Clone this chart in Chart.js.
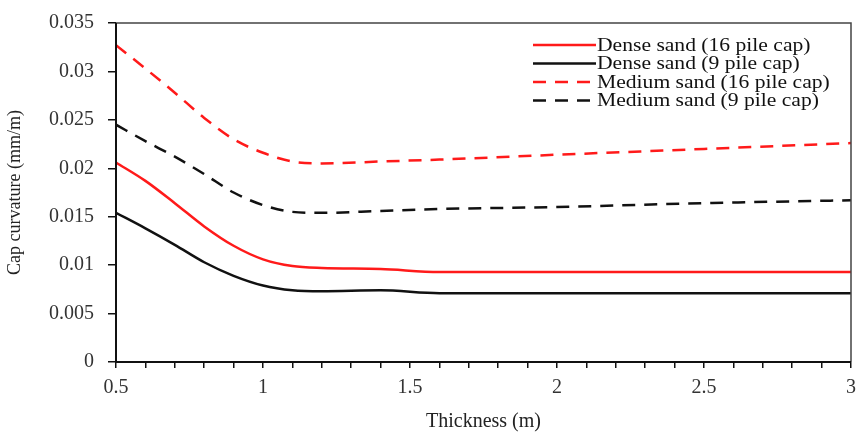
<!DOCTYPE html>
<html>
<head>
<meta charset="utf-8">
<script src="https://cdn.jsdelivr.net/npm/chart.js@4"></script>
<style>
  html, body { margin: 0; padding: 0; background: #fff; }
  #wrap { width: 857px; height: 432px; }
</style>
</head>
<body>
<div id="wrap"><canvas id="capChart" width="857" height="432"></canvas></div>
<script>
// valores
const thickness = [0.5, 0.6, 0.7, 0.8, 0.9, 1.0, 1.1, 1.2, 1.4, 1.6, 2, 2.5, 3];
const dense16 = [0.0206, 0.0187, 0.0164, 0.0140, 0.0120, 0.0106, 0.0099, 0.0097, 0.0096, 0.0093, 0.0093, 0.0093, 0.0093];
const dense9 = [0.0154, 0.0138, 0.0121, 0.0103, 0.0089, 0.0079, 0.0074, 0.0073, 0.0074, 0.0071, 0.0071, 0.0071, 0.0071];
const medium16 = [0.0327, 0.0303, 0.0278, 0.0252, 0.0230, 0.0216, 0.0207, 0.0205, 0.0207, 0.0209, 0.0214, 0.0220, 0.0226];
const medium9 = [0.0245, 0.0228, 0.0212, 0.0194, 0.0175, 0.0162, 0.0155, 0.0154, 0.0156, 0.0158, 0.0160, 0.0164, 0.0167];
const seriesLabels = ["Dense sand (16 pile cap)", "Dense sand (9 pile cap)", "Medium sand (16 pile cap)", "Medium sand (9 pile cap)"];

const serif = "'Liberation Serif', 'Times New Roman', serif";
const red = "#ff1a1a";
const black = "#111111";

function pts(ys) {
  return thickness.map((x, i) => ({ x: x, y: ys[i] }));
}

// caixa do gráfico e legenda dentro da área
const boxAndLegend = {
  id: "boxAndLegend",
  afterDraw(chart) {
    const ctx = chart.ctx;
    const a = chart.chartArea;
    ctx.save();
    ctx.strokeStyle = "#444";
    ctx.lineWidth = 1.5;
    ctx.beginPath();
    ctx.moveTo(a.left, a.top);
    ctx.lineTo(a.right, a.top);
    ctx.lineTo(a.right, a.bottom);
    ctx.stroke();
    ctx.strokeStyle = "#111";
    ctx.lineWidth = 2;
    ctx.beginPath();
    ctx.moveTo(a.left, a.top);
    ctx.lineTo(a.left, a.bottom);
    ctx.lineTo(a.right, a.bottom);
    ctx.stroke();

    ctx.font = "18px " + serif;
    ctx.textBaseline = "middle";
    ctx.fillStyle = "#111";
    chart.data.datasets.forEach((ds, i) => {
      const y = 45 + i * 18.5;
      ctx.strokeStyle = ds.borderColor;
      ctx.lineWidth = 2.5;
      ctx.setLineDash(ds.borderDash || []);
      ctx.beginPath();
      ctx.moveTo(533, y);
      ctx.lineTo(596, y);
      ctx.stroke();
      ctx.setLineDash([]);
      ctx.save();
      ctx.translate(597, y + 1);
      ctx.scale(1.2, 1);
      ctx.fillText(ds.label, 0, 0);
      ctx.restore();
    });
    ctx.restore();
  }
};

const ctx = document.getElementById("capChart").getContext("2d");
new Chart(ctx, {
  type: "line",
  data: {
    datasets: [
      { label: seriesLabels[0], data: pts(dense16), borderColor: red, borderWidth: 2.5 },
      { label: seriesLabels[1], data: pts(dense9), borderColor: black, borderWidth: 2.5 },
      { label: seriesLabels[2], data: pts(medium16), borderColor: red, borderWidth: 2.5, borderDash: [13, 9] },
      { label: seriesLabels[3], data: pts(medium9), borderColor: black, borderWidth: 2.5, borderDash: [13, 9] }
    ]
  },
  options: {
    responsive: false,
    animation: false,
    layout: { padding: { top: 23, right: 6, left: 0, bottom: 0 } },
    elements: {
      point: { radius: 0 },
      line: { cubicInterpolationMode: "monotone", fill: false }
    },
    plugins: { legend: { display: false }, tooltip: { enabled: false } },
    scales: {
      x: {
        type: "linear",
        min: 0.5,
        max: 3,
        afterFit(s) { s.height = 70; s.paddingLeft = 0; s.paddingRight = 0; },
        border: { display: false },
        grid: { drawOnChartArea: false, tickLength: 6, color: "#111", lineWidth: 1.5 },
        ticks: {
          stepSize: 0.1,
          autoSkip: false,
          maxRotation: 0,
          padding: 8,
          color: "#333",
          font: { family: serif, size: 20 },
          callback(v) {
            return Math.abs(v * 2 - Math.round(v * 2)) < 1e-6 ? String(Math.round(v * 10) / 10) : "";
          }
        },
        title: { display: true, text: "Thickness (m)", color: "#222", font: { family: serif, size: 20 }, padding: { top: 6, bottom: -2 } }
      },
      y: {
        min: 0,
        max: 0.035,
        afterFit(s) { s.width = 116; s.paddingTop = 0; s.paddingBottom = 0; },
        border: { display: false },
        grid: { drawOnChartArea: false, tickLength: 8, color: "#111", lineWidth: 1.5 },
        ticks: {
          stepSize: 0.005,
          padding: 14,
          color: "#333",
          font: { family: serif, size: 20 },
          callback(v) { return String(Math.round(v * 1000) / 1000); }
        },
        title: { display: true, text: "Cap curvature (mm/m)", color: "#222", font: { family: serif, size: 18 }, padding: { bottom: 2 } }
      }
    }
  },
  plugins: [boxAndLegend]
});
</script>
</body>
</html>
